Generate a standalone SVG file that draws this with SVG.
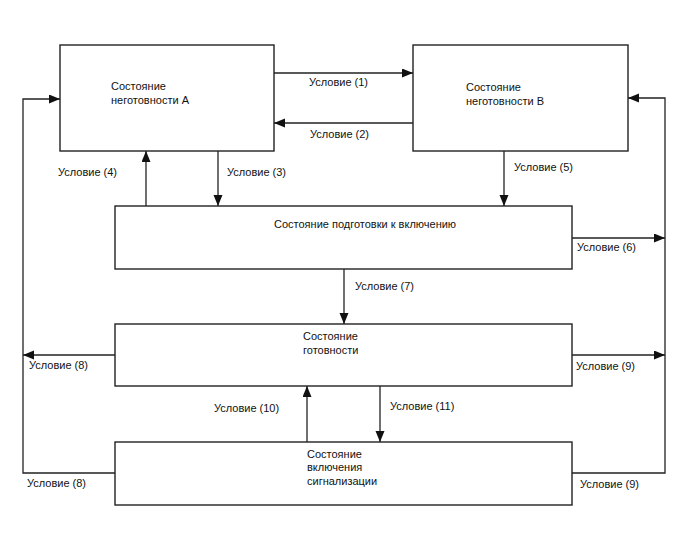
<svg xmlns="http://www.w3.org/2000/svg" width="688" height="560" viewBox="0 0 688 560">
<style>
.box{fill:#fff;stroke:#222;stroke-width:1.4}
.ln{fill:none;stroke:#222;stroke-width:1.3}
text{font-family:"Liberation Sans",Arial,sans-serif;font-size:11px;fill:#111}
</style>
<defs>
<marker id="ah" markerWidth="12" markerHeight="10" refX="11" refY="4.5" orient="auto" markerUnits="userSpaceOnUse">
<path d="M0,0 L11,4.5 L0,9 Z" fill="#111"/>
</marker>
</defs>
<rect width="688" height="560" fill="#fff"/>
<g id="connectors">
<line class="ln" x1="274" y1="73" x2="413" y2="73" marker-end="url(#ah)"/>
<text x="309" y="86">Условие (1)</text>
<line class="ln" x1="413" y1="123" x2="274" y2="123" marker-end="url(#ah)"/>
<text x="310" y="138">Условие (2)</text>
<line class="ln" x1="218" y1="151" x2="218" y2="206" marker-end="url(#ah)"/>
<text x="227" y="176">Условие (3)</text>
<line class="ln" x1="146" y1="206" x2="146" y2="151" marker-end="url(#ah)"/>
<text x="58" y="176">Условие (4)</text>
<line class="ln" x1="504" y1="151" x2="504" y2="206" marker-end="url(#ah)"/>
<text x="514" y="171">Условие (5)</text>
<line class="ln" x1="572" y1="238" x2="665" y2="238" marker-end="url(#ah)"/>
<text x="577" y="251">Условие (6)</text>
<line class="ln" x1="344" y1="269" x2="344" y2="324" marker-end="url(#ah)"/>
<text x="355" y="290">Условие (7)</text>
<line class="ln" x1="115" y1="355" x2="23" y2="355" marker-end="url(#ah)"/>
<text x="29" y="369">Условие (8)</text>
<line class="ln" x1="572" y1="355" x2="665" y2="355" marker-end="url(#ah)"/>
<text x="576" y="370">Условие (9)</text>
<line class="ln" x1="307" y1="442" x2="307" y2="386" marker-end="url(#ah)"/>
<text x="214" y="412">Условие (10)</text>
<line class="ln" x1="380" y1="386" x2="380" y2="442" marker-end="url(#ah)"/>
<text x="390" y="410">Условие (11)</text>
<polyline class="ln" points="115,473 23,473 23,99 60,99" marker-end="url(#ah)"/>
<text x="27" y="487">Условие (8)</text>
<polyline class="ln" points="572,473 665,473 665,98 628,98" marker-end="url(#ah)"/>
<text x="580" y="488">Условие (9)</text>
</g>
<g id="stateA">
<rect class="box" x="60" y="45" width="214" height="106"/>
<text x="111" y="90">Состояние</text>
<text x="111" y="104">неготовности А</text>
</g>
<g id="stateB">
<rect class="box" x="413" y="45" width="215" height="106"/>
<text x="466" y="91">Состояние</text>
<text x="466" y="105">неготовности В</text>
</g>
<g id="stateC">
<rect class="box" x="115" y="206" width="457" height="63"/>
<text x="274" y="228">Состояние подготовки к включению</text>
</g>
<g id="stateD">
<rect class="box" x="115" y="324" width="457" height="62"/>
<text x="303" y="340">Состояние</text>
<text x="303" y="354">готовности</text>
</g>
<g id="stateE">
<rect class="box" x="115" y="442" width="457" height="63"/>
<text x="307" y="458">Состояние</text>
<text x="307" y="471">включения</text>
<text x="307" y="485">сигнализации</text>
</g>
</svg>
